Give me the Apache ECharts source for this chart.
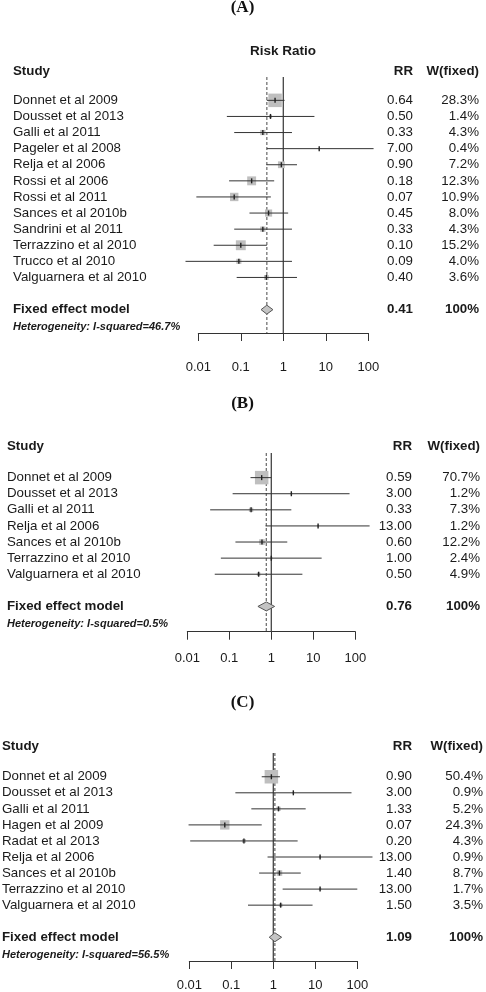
<!DOCTYPE html>
<html>
<head>
<meta charset="utf-8">
<script src="https://cdn.jsdelivr.net/npm/echarts@6/dist/echarts.min.js"></script>
<style>
html,body{margin:0;padding:0;background:#fff;}
#chart{width:486px;height:992px;}
</style>
</head>
<body>
<div id="chart"></div>
<script>
// ---------- DATA ----------
const panelTitles = ['(A)', '(B)', '(C)'];
const tickValues = [0.01, 0.1, 1, 10, 100];
const tickLabels = ['0.01', '0.1', '1', '10', '100'];

const studiesA = ['Donnet et al 2009','Dousset et al 2013','Galli et al 2011','Pageler et al 2008','Relja et al 2006','Rossi et al 2006','Rossi et al 2011','Sances et al 2010b','Sandrini et al 2011','Terrazzino et al 2010','Trucco et al 2010','Valguarnera et al 2010'];
const rrA     = [0.64, 0.50, 0.33, 7.00, 0.90, 0.18, 0.07, 0.45, 0.33, 0.10, 0.09, 0.40];
const lowerA  = [0.41, 0.047, 0.07, 0.41, 0.40, 0.053, 0.009, 0.16, 0.07, 0.023, 0.005, 0.08];
const upperA  = [1.07, 5.4, 1.6, 133, 2.1, 0.61, 0.51, 1.3, 1.6, 0.41, 1.6, 2.1];
const weightA = [28.3, 1.4, 4.3, 0.4, 7.2, 12.3, 10.9, 8.0, 4.3, 15.2, 4.0, 3.6];

const studiesB = ['Donnet et al 2009','Dousset et al 2013','Galli et al 2011','Relja et al 2006','Sances et al 2010b','Terrazzino et al 2010','Valguarnera et al 2010'];
const rrB     = [0.59, 3.00, 0.33, 13.00, 0.60, 1.00, 0.50];
const lowerB  = [0.32, 0.12, 0.035, 0.73, 0.14, 0.063, 0.045];
const upperB  = [1.0, 73, 3.0, 219, 2.4, 15.8, 5.5];
const weightB = [70.7, 1.2, 7.3, 1.2, 12.2, 2.4, 4.9];

const studiesC = ['Donnet et al 2009','Dousset et al 2013','Galli et al 2011','Hagen et al 2009','Radat et al 2013','Relja et al 2006','Sances et al 2010b','Terrazzino et al 2010','Valguarnera et al 2010'];
const rrC     = [0.90, 3.00, 1.33, 0.07, 0.20, 13.00, 1.40, 13.00, 1.50];
const lowerC  = [0.53, 0.125, 0.30, 0.0096, 0.0105, 0.73, 0.46, 1.67, 0.25];
const upperC  = [1.44, 72.8, 5.9, 0.53, 3.8, 230, 4.5, 100, 8.6];
const weightC = [50.4, 0.9, 5.2, 24.3, 4.3, 0.9, 8.7, 1.7, 3.5];

const fixedRR    = [0.41, 0.76, 1.09];
const fixedLower = [0.30, 0.48, 0.80];
const fixedUpper = [0.57, 1.20, 1.58];
const fixedLabel = 'Fixed effect model';
const heterogeneity = ['46.7%', '0.5%', '56.5%'];

// ---------- LAYOUT ----------
const FONT = '"Liberation Sans", Arial, sans-serif';
const TXT = '#1a1a1a';
const layouts = [
  {left:198.3, width:170, top:77,  bottom:333,   yMin:-1.45, yMax:14.45, nameX:13, rrX:413, wX:479, titleY:7.5, studyY:71.7, margin:28},
  {left:187.3, width:168, top:453, bottom:631.7, yMin:-1.53, yMax:9.57,  nameX:7,  rrX:412, wX:480, titleY:404, studyY:446,  margin:20},
  {left:189.3, width:168, top:753, bottom:961,   yMin:-1.48, yMax:11.48, nameX:2,  rrX:412, wX:483, titleY:703, studyY:746,  margin:17.5}
];
const panels = [
  {names:studiesA, rr:rrA, lo:lowerA, hi:upperA, w:weightA},
  {names:studiesB, rr:rrB, lo:lowerB, hi:upperB, w:weightB},
  {names:studiesC, rr:rrC, lo:lowerC, hi:upperC, w:weightC}
];

function fmtTick(v){
  let best = 0, bd = Infinity;
  for (let i = 0; i < tickValues.length; i++){
    const d = Math.abs(Math.log10(v) - Math.log10(tickValues[i]));
    if (d < bd){ bd = d; best = i; }
  }
  return tickLabels[best];
}

const grids = [], xAxes = [], yAxes = [], series = [], graphics = [];

panels.forEach((p, k) => {
  const L = layouts[k];
  const n = p.names.length;
  const maxW = Math.max.apply(null, p.w);
  grids.push({left:L.left, top:L.top, width:L.width, height:L.bottom - L.top});
  xAxes.push({
    gridIndex:k, type:'log', logBase:10, min:0.01, max:100, splitNumber:4, position:'bottom',
    axisLine:{show:true, onZero:false, lineStyle:{color:'#333', width:1}},
    axisTick:{show:true, length:8, lineStyle:{color:'#333', width:1}},
    minorTick:{show:false}, splitLine:{show:false},
    axisLabel:{show:true, margin:L.margin, color:TXT, fontSize:13, fontFamily:FONT, formatter:fmtTick, showMinLabel:true, showMaxLabel:true}
  });
  yAxes.push({gridIndex:k, type:'value', inverse:true, min:L.yMin, max:L.yMax, show:false});

  // reference line at RR = 1
  series.push({
    type:'line', xAxisIndex:k, yAxisIndex:k, silent:true, showSymbol:false, symbol:'none',
    data:[[1, L.yMin],[1, L.yMax]], lineStyle:{color:'#444', width:1.3}, z:1
  });
  // fixed effect dashed line
  series.push({
    type:'line', xAxisIndex:k, yAxisIndex:k, silent:true, showSymbol:false, symbol:'none',
    data:[[fixedRR[k], L.yMin],[fixedRR[k], L.yMax]], lineStyle:{color:'#666', width:1.2, type:[3,2]}, z:1
  });

  // study CIs and boxes
  const studyData = p.names.map((_, i) => [p.rr[i], p.lo[i], p.hi[i], i, p.w[i]]);
  series.push({
    type:'custom', xAxisIndex:k, yAxisIndex:k, clip:false, silent:true, z:3,
    data:studyData,
    renderItem:function(params, api){
      const est = api.value(0), lo = api.value(1), hi = api.value(2), row = api.value(3), w = api.value(4);
      const c = api.coord([est, row]), a = api.coord([lo, row]), b = api.coord([hi, row]);
      const s = 13.5 * Math.sqrt(w / maxW);
      return {type:'group', children:[
        {type:'rect', shape:{x:c[0]-s/2, y:c[1]-s/2, width:s, height:s}, style:{fill:'#bfbfbf'}},
        {type:'line', shape:{x1:a[0], y1:a[1], x2:b[0], y2:b[1]}, style:{stroke:'#333', lineWidth:1}},
        {type:'line', shape:{x1:c[0], y1:c[1]-2.5, x2:c[0], y2:c[1]+2.5}, style:{stroke:'#222', lineWidth:1.4}}
      ]};
    }
  });

  // fixed effect diamond
  series.push({
    type:'custom', xAxisIndex:k, yAxisIndex:k, clip:false, silent:true, z:3,
    data:[[fixedRR[k], fixedLower[k], fixedUpper[k], n + 1]],
    renderItem:function(params, api){
      const est = api.value(0), lo = api.value(1), hi = api.value(2), row = api.value(3);
      const c = api.coord([est, row]), a = api.coord([lo, row]), b = api.coord([hi, row]);
      return {type:'polygon', shape:{points:[[a[0],a[1]],[c[0],c[1]-4.5],[b[0],b[1]],[c[0],c[1]+4.5]]},
              style:{fill:'#c4c4c4', stroke:'#555', lineWidth:1}};
    }
  });

  // row texts (names, RR, weights)
  const textData = p.names.map((_, i) => [1, i]);
  textData.push([1, n + 1]);
  textData.push([1, n + 2.1]);
  series.push({
    type:'custom', xAxisIndex:k, yAxisIndex:k, clip:false, silent:true, z:4,
    data:textData,
    renderItem:function(params, api){
      const i = params.dataIndex;
      const y = api.coord([1, api.value(1)])[1];
      const reg = '13.3px ' + FONT, bold = 'bold 13.3px ' + FONT;
      if (i < n){
        return {type:'group', children:[
          {type:'text', x:L.nameX, y:y, style:{text:p.names[i], font:reg, fill:TXT, align:'left', verticalAlign:'middle'}},
          {type:'text', x:L.rrX, y:y, style:{text:p.rr[i].toFixed(2), font:reg, fill:TXT, align:'right', verticalAlign:'middle'}},
          {type:'text', x:L.wX, y:y, style:{text:p.w[i].toFixed(1) + '%', font:reg, fill:TXT, align:'right', verticalAlign:'middle'}}
        ]};
      } else if (i === n){
        return {type:'group', children:[
          {type:'text', x:L.nameX, y:y, style:{text:fixedLabel, font:bold, fill:TXT, align:'left', verticalAlign:'middle'}},
          {type:'text', x:L.rrX, y:y, style:{text:fixedRR[k].toFixed(2), font:bold, fill:TXT, align:'right', verticalAlign:'middle'}},
          {type:'text', x:L.wX, y:y, style:{text:'100%', font:bold, fill:TXT, align:'right', verticalAlign:'middle'}}
        ]};
      }
      return {type:'text', x:L.nameX, y:y, style:{text:'Heterogeneity: I-squared=' + heterogeneity[k], font:'italic bold 11px ' + FONT, fill:TXT, align:'left', verticalAlign:'middle'}};
    }
  });

  // headers
  graphics.push({type:'text', x:242.5, y:L.titleY, style:{text:panelTitles[k], font:'bold 17px "Liberation Serif", "Times New Roman", serif', fill:'#111', align:'center', verticalAlign:'middle'}});
  graphics.push({type:'text', x:L.nameX, y:L.studyY, style:{text:'Study', font:'bold 13.3px ' + FONT, fill:TXT, align:'left', verticalAlign:'middle'}});
  graphics.push({type:'text', x:L.rrX, y:L.studyY, style:{text:'RR', font:'bold 13.3px ' + FONT, fill:TXT, align:'right', verticalAlign:'middle'}});
  graphics.push({type:'text', x:L.wX, y:L.studyY, style:{text:'W(fixed)', font:'bold 13.3px ' + FONT, fill:TXT, align:'right', verticalAlign:'middle'}});
});
graphics.push({type:'text', x:283, y:51.7, style:{text:'Risk Ratio', font:'bold 13.5px ' + FONT, fill:TXT, align:'center', verticalAlign:'middle'}});

const chart = echarts.init(document.getElementById('chart'), null, {renderer:'canvas'});
chart.setOption({
  animation:false,
  backgroundColor:'#fff',
  grid:grids, xAxis:xAxes, yAxis:yAxes, series:series, graphic:graphics
});
</script>
</body>
</html>
